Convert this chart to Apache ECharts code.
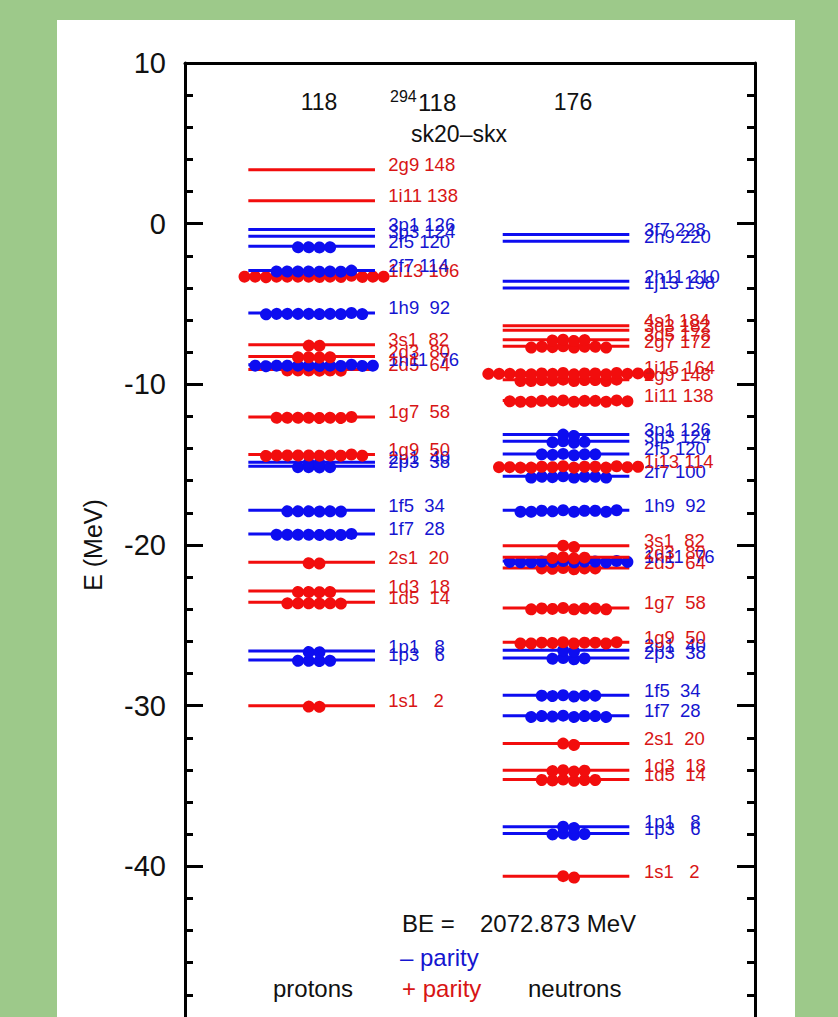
<!DOCTYPE html>
<html><head><meta charset="utf-8">
<script src="https://cdn.jsdelivr.net/npm/echarts@6/dist/echarts.min.js"></script>
<style>
html,body{margin:0;padding:0;background:#9dc98a;width:838px;height:1017px;overflow:hidden}
#panel{position:absolute;left:57px;top:20px;width:738px;height:997px;background:#fff}
#chart{position:absolute;left:0;top:0;width:838px;height:1017px}
</style></head><body><div id="panel"></div><div id="chart"></div>
<script>
// ---- data (listed top to bottom) ----
const protonNames = ['2g9','1i11','3p1','3p3','2f5','2f7','1i13','1h9','3s1','2d3','1h11','2d5','1g7','1g9','2p1','2p3','1f5','1f7','2s1','1d3','1d5','1p1','1p3','1s1'];
const protonCounts = [148,138,126,124,120,114,106,92,82,80,76,64,58,50,40,38,34,28,20,18,14,8,6,2];
const protonEnergies = [3.36,1.43,-0.37,-0.79,-1.41,-2.92,-3.24,-5.56,-7.53,-8.26,-8.78,-9.08,-12.03,-14.37,-14.85,-15.10,-17.84,-19.31,-21.08,-22.87,-23.57,-26.60,-27.15,-30.00];
const protonOccupancy = [0,0,0,0,4,8,14,10,2,4,12,6,8,10,2,4,6,8,2,4,6,2,4,2];

const neutronNames = ['3f7','2h9','2h11','1j13','4s1','3d3','3d5','2g7','1i15','2g9','1i11','3p1','3p3','2f5','1i13','2f7','1h9','3s1','2d3','1h11','2d5','1g7','1g9','2p1','2p3','1f5','1f7','2s1','1d3','1d5','1p1','1p3','1s1'];
const neutronCounts = [228,220,210,198,184,182,178,172,164,148,138,126,124,120,114,100,92,82,80,76,64,58,50,40,38,34,28,20,18,14,8,6,2];
const neutronEnergies = [-0.68,-1.10,-3.59,-4.00,-6.35,-6.64,-7.22,-7.63,-9.29,-9.71,-11.00,-13.13,-13.55,-14.33,-15.10,-15.72,-17.84,-20.04,-20.76,-21.00,-21.43,-23.92,-26.05,-26.55,-27.03,-29.35,-30.62,-32.36,-34.02,-34.60,-37.54,-37.96,-40.61];
const neutronOccupancy = [0,0,0,0,0,0,4,8,16,10,12,2,4,6,14,8,10,2,4,12,6,8,10,2,4,6,8,2,4,6,2,4,2];

const yTicks = {min:-50, max:10, step:10};

// ---- styles / layout ----
const RED = '#f20d0d', BLUE = '#0d0df0';
const RED_TXT = '#d81515', BLUE_TXT = '#1515d0';
const FONT = '"Liberation Sans", Arial, Helvetica, sans-serif';
const PCOL = {from:11.11, to:33.33, dot:22.63, label:35.67, step:1.877};
const NCOL = {from:55.74, to:77.95, dot:67.28, label:80.53, step:1.877};

function positive(name){ const l = name.replace(/[0-9]/g,'')[0]; return 'sdgi'.indexOf(l) >= 0; }
function labelText(name, n){ return (name + ' ' + String(n).padStart(3,' ')).replace(/ /g,'\u00a0'); }

function makeSeries(names, counts, energies, occ, col){
  const order = names.map((_, i) => i).reverse();
  return {
    type:'custom', coordinateSystem:'cartesian2d', clip:false, silent:true,
    data: order.map(i => [energies[i], occ[i], i]),
    encode:{y:0},
    renderItem(params, api){
      const E = api.value(0), n = api.value(1), i = api.value(2);
      const pos = positive(names[i]);
      const lc = pos ? RED : BLUE, tc = pos ? RED_TXT : BLUE_TXT;
      const a = api.coord([col.from, E]), b = api.coord([col.to, E]);
      const ch = [{type:'line', shape:{x1:a[0],y1:a[1],x2:b[0],y2:b[1]}, style:{stroke:lc, lineWidth:3}}];
      for (let k = 0; k < n; k++){
        const c = api.coord([col.dot + (k - (n-1)/2) * col.step, E]);
        ch.push({type:'circle', shape:{cx:c[0], cy:c[1], r:6}, style:{fill:lc}});
      }
      const t = api.coord([col.label, E]);
      ch.push({type:'text', x:t[0], y:t[1]-5, style:{text:labelText(names[i], counts[i]), fill:tc, font:'18.5px '+FONT, align:'left', verticalAlign:'middle'}});
      return {type:'group', children:ch};
    }
  };
}

const axisLineStyle = {color:'#000', width:3};
const xBase = {type:'value', min:0, max:100, axisLine:{show:true, onZero:false, lineStyle:axisLineStyle}, axisTick:{show:false}, axisLabel:{show:false}, splitLine:{show:false}};
const yBase = {type:'value', min:yTicks.min, max:yTicks.max, interval:yTicks.step,
  axisLine:{show:true, onZero:false, lineStyle:axisLineStyle},
  axisTick:{show:true, inside:true, length:18, lineStyle:{color:'#000', width:3}},
  minorTick:{show:true, splitNumber:5, length:8, lineStyle:{color:'#000', width:3}},
  splitLine:{show:false}};

function txt(text, x, y, size, color, align){
  return {type:'text', x:x, y:y, silent:true, style:{text:text.replace(/ /g,'\u00a0'), fill:color, font:size+'px '+FONT, align:align||'left', verticalAlign:'middle'}};
}

const chart = echarts.init(document.getElementById('chart'), null, {renderer:'svg'});
chart.setOption({
  animation:false,
  backgroundColor:'transparent',
  grid:{left:185, top:63, width:570, height:964, outerBoundsMode:'none', containLabel:false},
  xAxis:[Object.assign({position:'bottom'}, xBase), Object.assign({position:'top'}, xBase)],
  yAxis:[
    Object.assign({position:'left', axisLabel:{fontSize:29, color:'#111', margin:19, fontFamily:FONT, showMinLabel:false},
      name:'E (MeV)', nameLocation:'middle', nameGap:80, nameTextStyle:{fontSize:25, color:'#111', fontFamily:FONT}}, yBase),
    Object.assign({position:'right', axisLabel:{show:false}}, yBase)
  ],
  graphic:[
    txt('118', 319, 102, 23, '#111', 'center'),
    txt('176', 573, 102, 23, '#111', 'center'),
    txt('294', 390, 96, 16, '#111'),
    txt('118', 418, 102, 24, '#111'),
    txt('sk20\u2013skx', 459, 134, 23, '#111', 'center'),
    txt('BE =', 402, 923, 24, '#111'),
    txt('2072.873 MeV', 480, 923, 24, '#111'),
    txt('\u2013 parity', 400, 957, 24, BLUE_TXT),
    txt('+ parity', 402, 988, 24, RED_TXT),
    txt('protons', 273, 988, 24, '#111'),
    txt('neutrons', 528, 988, 24, '#111')
  ],
  series:[
    makeSeries(protonNames, protonCounts, protonEnergies, protonOccupancy, PCOL),
    makeSeries(neutronNames, neutronCounts, neutronEnergies, neutronOccupancy, NCOL)
  ]
});
</script></body></html>
